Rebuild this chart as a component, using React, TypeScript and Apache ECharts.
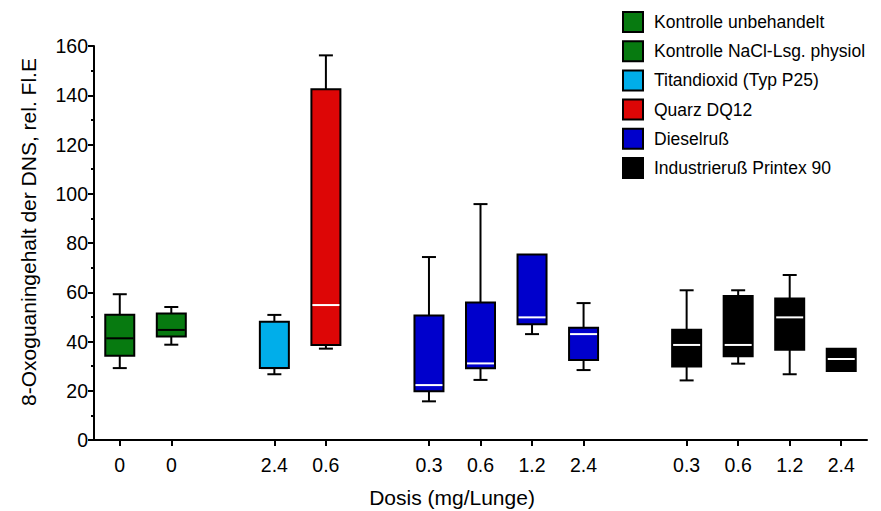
import React, { useEffect, useRef } from "react";
import * as echarts from "echarts";

const categories = ["0", "0", "", "2.4", "0.6", "", "0.3", "0.6", "1.2", "2.4", "", "0.3", "0.6", "1.2", "2.4"];

const seriesNames = [
  "Kontrolle unbehandelt",
  "Kontrolle NaCl-Lsg. physiol",
  "Titandioxid (Typ P25)",
  "Quarz DQ12",
  "Dieselruß",
  "Industrieruß Printex 90",
];

// [category index, min, Q1, median, Q3, max]
const kontrolleUnbehandelt = [[0, 29.2, 34.2, 41.3, 50.9, 59.2]];
const kontrolleNaCl = [[1, 38.7, 42.0, 44.7, 51.4, 54.0]];
const titandioxid = [[3, 26.7, 29.2, 29.2, 48.0, 50.8]];
const quarz = [[4, 37.1, 38.6, 54.8, 142.4, 156.2]];
const dieselruss = [
  [6, 15.7, 19.8, 22.3, 50.6, 74.3],
  [7, 24.4, 29.1, 31.1, 55.8, 95.8],
  [8, 43.0, 47.0, 49.8, 75.3, 75.3],
  [9, 28.4, 32.5, 43.0, 45.6, 55.6],
];
const printex = [
  [11, 24.2, 29.8, 38.6, 44.8, 60.8],
  [12, 31.0, 34.0, 38.6, 58.5, 60.8],
  [13, 26.7, 36.7, 49.8, 57.5, 67.0],
  [14, 28.0, 28.0, 32.9, 37.1, 37.1],
];

const seriesData = [kontrolleUnbehandelt, kontrolleNaCl, titandioxid, quarz, dieselruss, printex];
const fillColors = ["#077a10", "#077a10", "#00aeea", "#dd0606", "#0000cc", "#000000"];
const medianColors = ["#000000", "#000000", "#000000", "#ffffff", "#ffffff", "#ffffff"];

const FONT = "'Liberation Sans', Arial, Helvetica, sans-serif";

function makeRenderItem(fill: string, medianColor: string) {
  return (params: any, api: any) => {
    const x = api.value(0);
    const pMin = api.coord([x, api.value(1)]);
    const pQ1 = api.coord([x, api.value(2)]);
    const pMed = api.coord([x, api.value(3)]);
    const pQ3 = api.coord([x, api.value(4)]);
    const pMax = api.coord([x, api.value(5)]);
    const cx = pMed[0];
    const half = 14.5;
    const cap = 7;
    const lineStyle = { stroke: "#000", lineWidth: 2 };
    const children: any[] = [];
    if (api.value(5) > api.value(4)) {
      children.push({ type: "line", shape: { x1: cx, y1: pMax[1], x2: cx, y2: pQ3[1] }, style: lineStyle });
      children.push({ type: "line", shape: { x1: cx - cap, y1: pMax[1], x2: cx + cap, y2: pMax[1] }, style: lineStyle });
    }
    if (api.value(1) < api.value(2)) {
      children.push({ type: "line", shape: { x1: cx, y1: pQ1[1], x2: cx, y2: pMin[1] }, style: lineStyle });
      children.push({ type: "line", shape: { x1: cx - cap, y1: pMin[1], x2: cx + cap, y2: pMin[1] }, style: lineStyle });
    }
    children.push({
      type: "rect",
      shape: { x: cx - half, y: pQ3[1], width: half * 2, height: pQ1[1] - pQ3[1] },
      style: { fill, stroke: "#000", lineWidth: 2 },
    });
    children.push({
      type: "line",
      shape: { x1: cx - half + 1, y1: pMed[1], x2: cx + half - 1, y2: pMed[1] },
      style: { stroke: medianColor, lineWidth: 2 },
    });
    return { type: "group", children };
  };
}

export default function App() {
  const ref = useRef<HTMLDivElement>(null);
  useEffect(() => {
    if (!ref.current) return;
    const chart = echarts.init(ref.current, undefined, { renderer: "svg" });
    const option: any = {
      animation: false,
      backgroundColor: "#ffffff",
      textStyle: { fontFamily: FONT },
      grid: { left: 94, right: 14, top: 46, bottom: 71, containLabel: false },
      legend: {
        orient: "vertical",
        left: 622,
        top: 11,
        padding: 0,
        itemWidth: 20,
        itemHeight: 20,
        itemGap: 7.2,
        icon: "rect",
        itemStyle: { borderColor: "#000", borderWidth: 2 },
        textStyle: { fontFamily: FONT, fontSize: 17.5, lineHeight: 20, color: "#000", padding: [0, 0, 0, 6] },
        data: seriesNames,
        selectedMode: false,
      },
      xAxis: {
        type: "category",
        data: categories,
        boundaryGap: true,
        axisLine: { show: true, lineStyle: { color: "#000", width: 2 } },
        axisTick: {
          show: true,
          alignWithLabel: true,
          interval: (i: number, v: string) => v !== "",
          length: 6,
          lineStyle: { color: "#000", width: 2 },
        },
        axisLabel: { interval: 0, color: "#000", fontSize: 19.5, fontFamily: FONT, margin: 15 },
        splitLine: { show: false },
      },
      yAxis: {
        type: "value",
        min: 0,
        max: 160,
        interval: 20,
        axisLine: { show: true, lineStyle: { color: "#000", width: 2 } },
        axisTick: { show: true, length: 6, lineStyle: { color: "#000", width: 2 } },
        minorTick: { show: true, splitNumber: 2, length: 3, lineStyle: { color: "#000", width: 2 } },
        axisLabel: { color: "#000", fontSize: 19.5, fontFamily: FONT, margin: 6 },
        splitLine: { show: false },
      },
      graphic: [
        {
          type: "text",
          x: 28,
          y: 232,
          rotation: Math.PI / 2,
          style: {
            text: "8-Oxoguaningehalt der DNS, rel. Fl.E",
            fontSize: 21,
            fontFamily: FONT,
            fill: "#000",
            textAlign: "center",
            textVerticalAlign: "middle",
          },
        },
        {
          type: "text",
          x: 452,
          y: 497,
          style: {
            text: "Dosis (mg/Lunge)",
            fontSize: 21,
            fontFamily: FONT,
            fill: "#000",
            textAlign: "center",
            textVerticalAlign: "middle",
          },
        },
      ],
      series: seriesNames.map((name, i) => ({
        name,
        type: "custom",
        itemStyle: { color: fillColors[i] },
        encode: { x: 0, y: [1, 2, 3, 4, 5] },
        data: seriesData[i],
        renderItem: makeRenderItem(fillColors[i], medianColors[i]),
      })),
    };
    chart.setOption(option);
    return () => chart.dispose();
  }, []);
  return <div ref={ref} style={{ position: "fixed", left: 0, top: 0, width: 881, height: 511 }} />;
}
